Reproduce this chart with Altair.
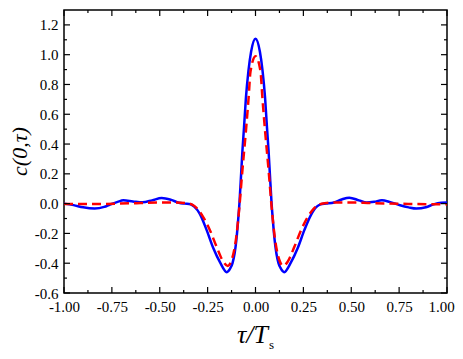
import altair as alt
import pandas as pd

# Blue solid curve
blue_x = [-1.00, -0.95, -0.90, -0.84, -0.79, -0.76, -0.72, -0.69, -0.64, -0.59, -0.54, -0.49,
          -0.44, -0.40, -0.37, -0.34, -0.32, -0.29, -0.255, -0.22, -0.185, -0.15, -0.13, -0.12,
          -0.10, -0.09, -0.084, -0.075, -0.068, -0.06, -0.05, -0.037, -0.023, 0.0,
          0.023, 0.037, 0.05, 0.06, 0.068, 0.075, 0.084, 0.09, 0.10, 0.12, 0.13, 0.15,
          0.185, 0.22, 0.255, 0.29, 0.32, 0.34, 0.37, 0.41, 0.45, 0.49, 0.54, 0.58,
          0.62, 0.66, 0.70, 0.755, 0.80, 0.84, 0.89, 0.93, 0.97, 1.00]
blue_y = [0.000, -0.010, -0.025, -0.033, -0.022, -0.006, 0.012, 0.022, 0.015, 0.009, 0.022, 0.038,
          0.025, 0.006, 0.000, -0.004, -0.020, -0.070, -0.178, -0.300, -0.395, -0.460, -0.430, -0.400,
          -0.245, -0.100, 0.000, 0.200, 0.360, 0.510, 0.710, 0.890, 1.020, 1.107,
          1.020, 0.890, 0.710, 0.510, 0.360, 0.200, 0.000, -0.100, -0.245, -0.400, -0.430, -0.460,
          -0.395, -0.300, -0.178, -0.075, -0.020, -0.005, 0.000, 0.008, 0.028, 0.040, 0.022, 0.007,
          0.012, 0.022, 0.012, -0.011, -0.025, -0.033, -0.024, -0.005, 0.006, 0.008]

# Red dashed curve
red_x = [-1.00, -0.80, -0.60, -0.50, -0.42, -0.36, -0.325, -0.30, -0.273, -0.238, -0.203, -0.168,
         -0.145, -0.125, -0.10, -0.084, -0.07, -0.05, -0.036, -0.026, 0.0,
         0.026, 0.036, 0.05, 0.07, 0.084, 0.10, 0.125, 0.145, 0.168, 0.203, 0.238,
         0.273, 0.30, 0.325, 0.36, 0.42, 0.50, 0.60, 0.80, 1.00]
red_y = [-0.003, -0.002, 0.004, 0.008, 0.008, 0.003, -0.011, -0.040, -0.090, -0.178, -0.290, -0.390,
         -0.418, -0.380, -0.220, -0.020, 0.200, 0.489, 0.711, 0.889, 0.990,
         0.889, 0.711, 0.489, 0.200, -0.020, -0.220, -0.380, -0.418, -0.390, -0.290, -0.178,
         -0.090, -0.040, -0.011, 0.003, 0.008, 0.008, 0.004, -0.002, -0.005]

x_major = [-1.0, -0.75, -0.5, -0.25, 0.0, 0.25, 0.5, 0.75, 1.0]
x_minor = [-0.875, -0.625, -0.375, -0.125, 0.125, 0.375, 0.625, 0.875]
y_major = [-0.6, -0.4, -0.2, 0.0, 0.2, 0.4, 0.6, 0.8, 1.0, 1.2]
y_minor = [-0.5, -0.3, -0.1, 0.1, 0.3, 0.5, 0.7, 0.9, 1.1]

W, H = 383, 283
FONT = "Liberation Serif"

xs = alt.Scale(domain=[-1, 1], nice=False, zero=False)
ys = alt.Scale(domain=[-0.6, 1.3], nice=False, zero=False)

x_axis = alt.Axis(values=x_major, ticks=False, tickSize=0, domain=False, grid=False,
                  labelExpr="replace(format(datum.value, '.2f'), '\u2212', '-')",
                  labelFont=FONT, labelFontSize=15, labelColor="black", labelPadding=6,
                  title=None, labelFlush=False, labelOverlap=False,
                  labelOffset={"condition": {"test": "datum.value >= 1", "value": -6}, "value": 0})
y_axis = alt.Axis(values=y_major, ticks=False, tickSize=0, domain=False, grid=False,
                  labelExpr="replace(format(datum.value, '.1f'), '\u2212', '-')",
                  labelFont=FONT, labelFontSize=15, labelColor="black", labelPadding=6,
                  title=None, labelFlush=False, labelOverlap=False)

blue_df = pd.DataFrame({"x": blue_x, "y": blue_y})
red_df = pd.DataFrame({"x": red_x, "y": red_y})

blue = alt.Chart(blue_df).mark_line(color="#0000ff", strokeWidth=2.5, interpolate="monotone").encode(
    x=alt.X("x:Q", scale=xs, axis=x_axis),
    y=alt.Y("y:Q", scale=ys, axis=y_axis),
)
red = alt.Chart(red_df).mark_line(color="#ff0000", strokeWidth=2.5, strokeDash=[9, 5],
                                  interpolate="monotone").encode(
    x=alt.X("x:Q", scale=xs, axis=x_axis),
    y=alt.Y("y:Q", scale=ys, axis=y_axis),
)

def xticks(vals, length):
    df = pd.DataFrame({"x": vals})
    bottom = alt.Chart(df).mark_rule(color="black", strokeWidth=1.2).encode(
        x=alt.X("x:Q", scale=xs, axis=x_axis), y=alt.value(H), y2=alt.value(H - length))
    top = alt.Chart(df).mark_rule(color="black", strokeWidth=1.2).encode(
        x=alt.X("x:Q", scale=xs, axis=x_axis), y=alt.value(0), y2=alt.value(length))
    return [bottom, top]

def yticks(vals, length):
    df = pd.DataFrame({"y": vals})
    left = alt.Chart(df).mark_rule(color="black", strokeWidth=1.2).encode(
        y=alt.Y("y:Q", scale=ys, axis=y_axis), x=alt.value(0), x2=alt.value(length))
    right = alt.Chart(df).mark_rule(color="black", strokeWidth=1.2).encode(
        y=alt.Y("y:Q", scale=ys, axis=y_axis), x=alt.value(W), x2=alt.value(W - length))
    return [left, right]

tick_layers = xticks(x_major, 6) + xticks(x_minor, 3) + yticks(y_major, 6) + yticks(y_minor, 3)

title_df = pd.DataFrame({"t": ["c(0,\u03c4)"]})
ytitle = alt.Chart(title_df).mark_text(font=FONT, fontSize=22, fontStyle="italic", angle=270,
                                       align="center", baseline="alphabetic", color="black").encode(
    text="t:N", x=alt.value(-37), y=alt.value(H / 2))

xt_df = pd.DataFrame({"t": ["\u03c4/T"]})
xtitle = alt.Chart(xt_df).mark_text(font=FONT, fontSize=26, fontStyle="italic",
                                    align="right", baseline="alphabetic", color="black").encode(
    text="t:N", x=alt.value(204), y=alt.value(333))
xs_df = pd.DataFrame({"t": ["s"]})
xsub = alt.Chart(xs_df).mark_text(font=FONT, fontSize=13, align="left",
                                  baseline="alphabetic", color="black").encode(
    text="t:N", x=alt.value(205), y=alt.value(339))

chart = alt.layer(blue, red, *tick_layers, ytitle, xtitle, xsub).properties(
    width=W, height=H,
    autosize=alt.AutoSizeParams(type="none"),
    padding={"left": 56, "top": 2, "right": 8, "bottom": 58},
).configure_view(stroke="black", strokeWidth=1.5)

chart.save("out.html", embed_options={"renderer": "svg", "actions": False})
